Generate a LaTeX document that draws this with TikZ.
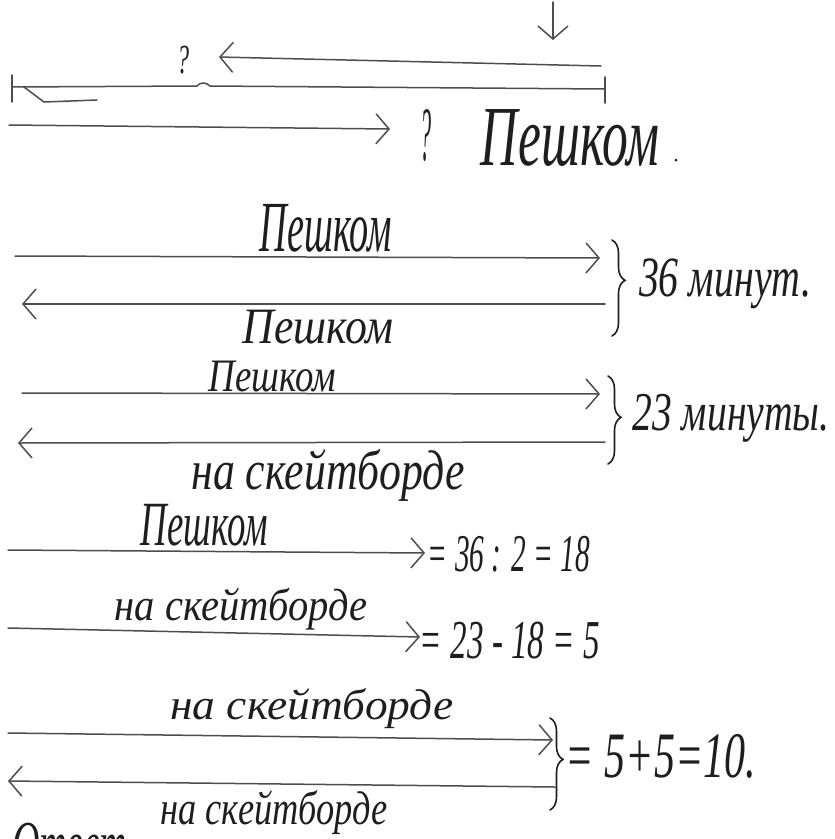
\documentclass[tikz,border=0pt]{standalone}
\usepackage{fontspec}
\setmainfont{Liberation Serif}
\usetikzlibrary{arrows.meta,decorations.pathreplacing}
\definecolor{linec}{HTML}{4D4D4D}
\definecolor{textc}{HTML}{1E1E1E}
\newcommand{\hwt}[3]{\resizebox*{#1pt}{#2pt}{\itshape #3}}
\tikzset{
  ln/.style={draw=linec, line width=1.5pt, line cap=round, line join=round},
  arr/.style={ln, -{Straight Barb[length=13pt,width=30pt,line width=1.5pt]}},
  br/.style={draw=textc, line width=1.6pt, line cap=round, decorate, decoration={brace,amplitude=13pt,aspect=#1}},
  br/.default=0.45,
  hw/.style={text=textc, inner sep=0pt, anchor=center},
}
\begin{document}
\begin{tikzpicture}[x=1pt,y=-1pt]
\useasboundingbox (0,0) rectangle (835,839);

% ---------- top sketch ----------
\coordinate (d1) at (553,2);
\coordinate (d2) at (553,40);
\draw[arr] (d1) -- (d2);

\node[hw] (q1) at (183,60) {\hwt{12}{28}{?}};
\coordinate (la1) at (601,66);
\coordinate (la2) at (219,57);
\draw[arr] (la1) -- (la2);

\coordinate (s1) at (12,87);
\coordinate (s2) at (605,89);
\draw[ln] (s1) -- (197,86) .. controls (200,82) and (206,82) .. (210,86) -- (s2);
\draw[ln] (12,75) -- (12,102);
\draw[ln] (605,77) -- (605,103);
\draw[ln] (24,87) -- (44,102) -- (97,100);

\coordinate (ra1) at (9,125);
\coordinate (ra2) at (390,129);
\draw[arr] (ra1) -- (ra2);
\node[hw] (q2) at (426,136) {\hwt{11}{52}{?}};
\node[hw] (t0) at (570,138) {\hwt{178}{57}{Пешком}};
\fill[textc] (676,160) circle (1.5pt);

% ---------- pair 1 : 36 minutes ----------
\node[hw] (l1) at (326,228) {\hwt{132}{48}{Пешком}};
\coordinate (a1s) at (15,256);
\coordinate (a1e) at (600,258);
\draw[arr] (a1s) -- (a1e);
\coordinate (a2s) at (605,304);
\coordinate (a2e) at (22,304);
\draw[arr] (a2s) -- (a2e);
\node[hw] (l2) at (318,327) {\hwt{151}{34}{Пешком}};
\coordinate (b1t) at (612,240);
\coordinate (b1b) at (612,336);
\draw[br=0.42] (b1t) -- (b1b);
\node[hw] (r1) at (725,284) {\hwt{172}{50}{36 минут.}};

% ---------- pair 2 : 23 minutes ----------
\node[hw] (l3) at (272,377) {\hwt{127}{31}{Пешком}};
\coordinate (a3s) at (22,393);
\coordinate (a3e) at (600,394);
\draw[arr] (a3s) -- (a3e);
\coordinate (a4s) at (605,442);
\coordinate (a4e) at (18,443);
\draw[arr] (a4s) -- (a4e);
\node[hw] (l4) at (328,475) {\hwt{273}{52}{на скейтборде}};
\coordinate (b2t) at (608,376);
\coordinate (b2b) at (608,464);
\draw[br=0.47] (b2t) -- (b2b);
\node[hw] (r2) at (731,418) {\hwt{197}{48}{23 минуты.}};

% ---------- computations ----------
\node[hw] (l5) at (204,525) {\hwt{127}{42}{Пешком}};
\coordinate (a5s) at (8,550);
\coordinate (a5e) at (425,553);
\draw[arr] (a5s) -- (a5e);
\node[hw] (r3) at (509,554) {\hwt{162}{36}{= 36 : 2 = 18}};

\node[hw] (l6) at (241,609) {\hwt{253}{42}{на скейтборде}};
\coordinate (a6s) at (8,628);
\coordinate (a6e) at (420,637);
\draw[arr] (a6s) -- (a6e);
\node[hw] (r4) at (510,641) {\hwt{180}{37}{= 23 - 18 = 5}};

% ---------- pair 3 : 10 ----------
\node[hw] (l7) at (312,709) {\hwt{283}{40}{на скейтборде}};
\coordinate (a7s) at (8,733);
\coordinate (a7e) at (553,740);
\draw[arr] (a7s) -- (a7e);
\coordinate (a8s) at (555,787);
\coordinate (a8e) at (8,781);
\draw[arr] (a8s) -- (a8e);
\node[hw] (l8) at (274,813) {\hwt{227}{44}{на скейтборде}};
\coordinate (b3t) at (550,718);
\coordinate (b3b) at (550,810);
\draw[br=0.45] (b3t) -- (b3b);
\node[hw] (r5) at (661,756) {\hwt{190}{44}{= 5+5=10.}};

% ---------- cut-off answer line ----------
\begin{scope}
\clip (0,0) rectangle (835,839);
\node[hw, anchor=north west] (ans) at (12,823) {\hwt{115}{42}{Ответ}};
\end{scope}
\end{tikzpicture}
\end{document}
